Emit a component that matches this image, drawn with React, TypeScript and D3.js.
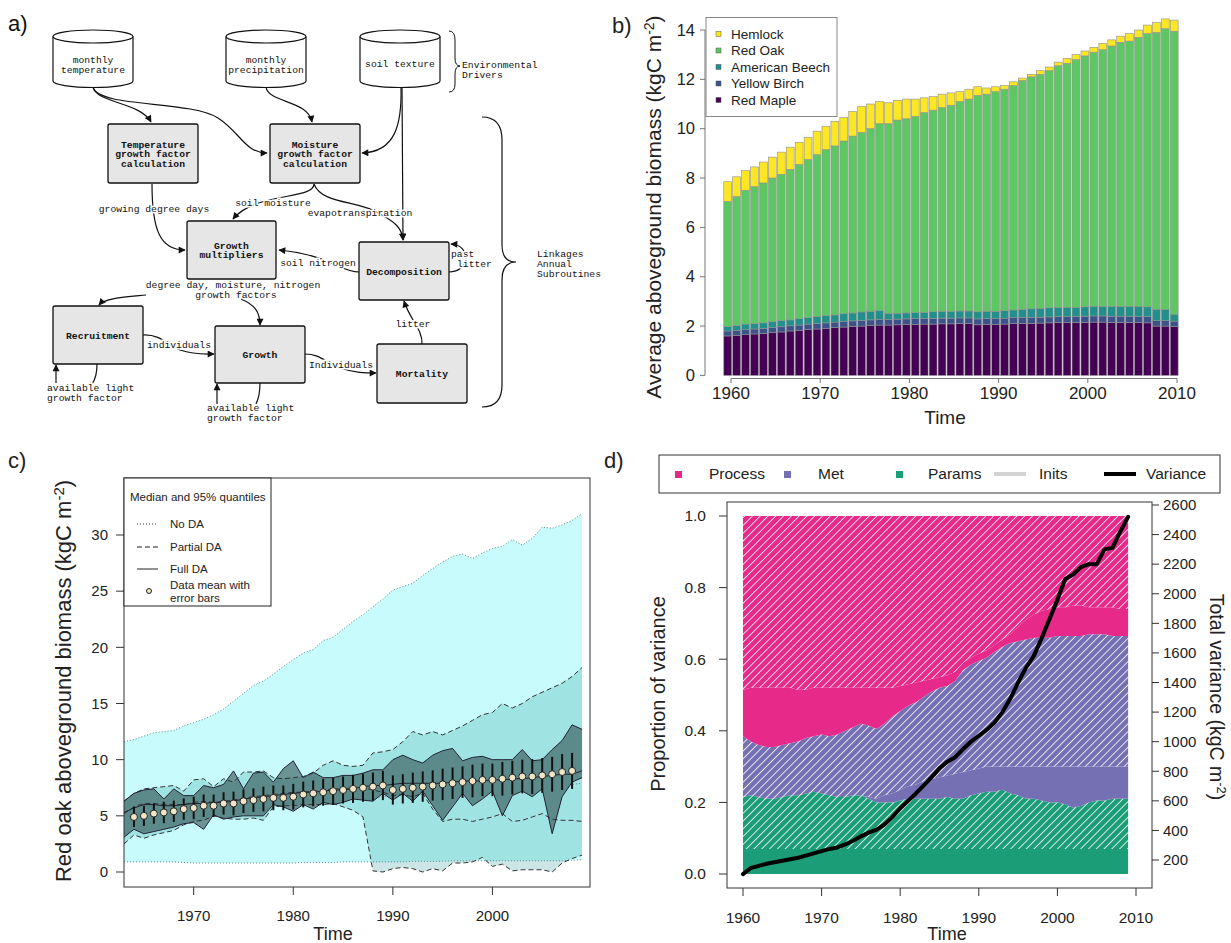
import * as d3 from "d3";

const SANS = "'Liberation Sans', Arial, Helvetica, sans-serif";
const MONO = "'Liberation Mono', 'DejaVu Sans Mono', monospace";

// ---------- b) average aboveground biomass by species (kgC m-2)
const barYears = d3.range(1960, 2011);
const speciesKeys = ["redMaple", "yellowBirch", "americanBeech", "redOak", "hemlock"];
const speciesLabels = ["Red Maple", "Yellow Birch", "American Beech", "Red Oak", "Hemlock"];
const speciesColors = ["#440154", "#3b528b", "#21908c", "#5dc863", "#fde725"];
const redMaple = [1.6, 1.62, 1.65, 1.68, 1.7, 1.73, 1.76, 1.8, 1.83, 1.86, 1.88, 1.91, 1.94, 1.96, 1.98, 2.0, 2.02, 2.04, 2.04, 2.05, 2.06, 2.07, 2.08, 2.08, 2.09, 2.09, 2.1, 2.1, 2.05, 2.06, 2.07, 2.08, 2.1, 2.1, 2.11, 2.12, 2.13, 2.14, 2.14, 2.15, 2.15, 2.16, 2.16, 2.15, 2.15, 2.15, 2.14, 2.13, 2.0, 2.0, 1.98];
const yellowBirch = [0.2, 0.2, 0.2, 0.2, 0.2, 0.21, 0.21, 0.21, 0.21, 0.22, 0.22, 0.22, 0.22, 0.22, 0.23, 0.23, 0.23, 0.23, 0.23, 0.23, 0.23, 0.23, 0.23, 0.23, 0.23, 0.23, 0.23, 0.23, 0.24, 0.24, 0.24, 0.24, 0.24, 0.24, 0.24, 0.24, 0.24, 0.24, 0.24, 0.24, 0.25, 0.25, 0.25, 0.25, 0.25, 0.25, 0.25, 0.25, 0.22, 0.22, 0.22];
const americanBeech = [0.18, 0.21, 0.23, 0.22, 0.23, 0.24, 0.25, 0.24, 0.26, 0.27, 0.28, 0.29, 0.29, 0.32, 0.32, 0.34, 0.35, 0.35, 0.25, 0.24, 0.24, 0.25, 0.25, 0.27, 0.28, 0.28, 0.28, 0.28, 0.29, 0.3, 0.29, 0.3, 0.31, 0.34, 0.35, 0.36, 0.37, 0.37, 0.38, 0.37, 0.38, 0.39, 0.39, 0.4, 0.4, 0.4, 0.41, 0.4, 0.46, 0.46, 0.28];
const redOak = [5.07, 5.22, 5.42, 5.55, 5.67, 5.82, 5.93, 6.1, 6.25, 6.4, 6.57, 6.73, 6.85, 7.0, 7.17, 7.28, 7.4, 7.58, 7.68, 7.83, 7.87, 7.95, 8.09, 8.17, 8.25, 8.35, 8.49, 8.59, 8.77, 8.8, 8.9, 8.98, 9.1, 9.27, 9.4, 9.48, 9.61, 9.8, 9.89, 10.04, 10.17, 10.3, 10.4, 10.55, 10.7, 10.75, 10.9, 11.07, 11.22, 11.37, 11.47];
const hemlock = [0.8, 0.8, 0.8, 0.8, 0.85, 0.85, 0.9, 0.9, 0.9, 0.9, 0.95, 0.95, 1.0, 0.95, 1.0, 1.05, 1.0, 0.9, 0.85, 0.8, 0.8, 0.7, 0.6, 0.55, 0.55, 0.5, 0.4, 0.4, 0.35, 0.25, 0.2, 0.15, 0.15, 0.1, 0.1, 0.15, 0.15, 0.15, 0.2, 0.2, 0.2, 0.2, 0.25, 0.25, 0.25, 0.3, 0.3, 0.35, 0.4, 0.4, 0.45];
const biomassTicks = [0, 2, 4, 6, 8, 10, 12, 14];
const barYearTicks = [1960, 1970, 1980, 1990, 2000, 2010];

// ---------- c) red oak biomass under data assimilation (kgC m-2)
const daYears = d3.range(1963, 2010);
const noDaUpper = [11.6, 11.8, 12.1, 12.4, 12.5, 12.6, 13.0, 13.3, 13.6, 14.0, 14.5, 15.2, 15.9, 16.6, 17.0, 17.6, 18.3, 18.9, 19.5, 19.8, 20.6, 20.9, 21.6, 22.3, 22.9, 23.6, 24.3, 25.1, 25.4, 25.7, 26.4, 27.0, 27.6, 28.1, 28.3, 27.9, 28.4, 28.8, 29.0, 29.6, 29.1, 29.7, 30.7, 30.6, 30.9, 31.3, 31.9];
const noDaLower = [0.9, 0.9, 0.9, 0.9, 0.9, 0.9, 0.85, 0.8, 0.8, 0.8, 0.8, 0.8, 0.8, 0.8, 0.8, 0.8, 0.8, 0.8, 0.85, 0.85, 0.85, 0.85, 0.9, 0.9, 0.9, 0.9, 0.9, 0.9, 0.9, 0.95, 0.95, 0.95, 0.95, 1.0, 1.0, 1.0, 1.0, 1.0, 1.0, 1.0, 1.0, 1.0, 1.0, 1.0, 1.0, 1.05, 1.1];
const noDaMedian = [5.0, 5.3, 5.5, 5.6, 5.7, 5.8, 5.9, 6.0, 6.0, 6.1, 6.1, 6.2, 6.3, 6.3, 6.4, 6.4, 6.5, 6.0, 6.0, 6.1, 6.2, 6.3, 6.4, 6.5, 6.6, 6.6, 6.7, 6.8, 6.8, 6.9, 6.9, 7.0, 7.0, 7.1, 7.1, 7.2, 7.2, 7.3, 7.3, 7.4, 7.4, 7.5, 7.5, 7.6, 7.7, 7.8, 7.9];
const partialUpper = [6.3, 7.0, 7.4, 7.5, 7.6, 7.7, 7.2, 8.2, 8.3, 7.6, 8.3, 8.0, 8.9, 8.9, 9.0, 8.4, 8.3, 8.4, 8.5, 8.8, 9.5, 9.9, 9.5, 9.4, 9.5, 10.6, 10.7, 10.9, 11.6, 12.5, 12.2, 12.5, 12.2, 12.6, 13.0, 13.5, 14.0, 14.2, 15.0, 14.6, 15.0, 15.6, 16.0, 16.4, 16.8, 17.4, 18.2];
const partialLower = [2.5, 3.3, 3.0, 3.3, 3.5, 3.7, 4.2, 4.5, 4.6, 5.0, 4.8, 4.7, 4.7, 4.8, 4.6, 5.8, 5.9, 5.9, 6.0, 6.0, 6.0, 6.1, 5.8, 5.5, 4.9, 0.1, 0.0, 0.3, 0.4, 0.3, 0.0, 0.3, 0.1, 0.8, 0.8, 0.9, 1.3, 0.5, 0.7, 0.1, 0.2, 0.2, 0.2, 0.0, 0.8, 1.2, 1.5];
const partialMedian = [5.2, 5.8, 6.1, 6.1, 6.0, 6.0, 6.0, 6.2, 6.3, 6.2, 6.3, 6.4, 6.6, 6.7, 6.8, 6.9, 7.0, 7.1, 7.1, 7.2, 7.3, 7.4, 7.4, 7.5, 7.5, 7.3, 7.1, 6.8, 6.9, 6.7, 7.0, 5.6, 4.5, 4.7, 4.7, 4.5, 4.7, 4.9, 5.2, 4.5, 4.6, 4.9, 5.2, 4.7, 4.6, 4.6, 4.5];
const fullUpper = [6.3, 7.0, 7.3, 7.4, 6.5, 7.4, 6.8, 6.8, 7.7, 7.5, 7.8, 9.0, 7.4, 8.8, 8.9, 8.0, 9.2, 9.9, 8.4, 8.9, 8.4, 8.4, 8.6, 8.6, 8.8, 9.1, 9.1, 10.0, 10.4, 10.0, 9.7, 10.4, 10.8, 11.0, 9.9, 10.2, 10.3, 10.0, 10.0, 10.0, 10.9, 9.9, 10.0, 10.9, 11.7, 13.1, 12.7];
const fullLower = [3.1, 3.8, 3.4, 3.6, 3.8, 4.0, 4.3, 4.4, 3.8, 5.1, 4.7, 4.9, 5.0, 5.0, 5.0, 6.0, 5.8, 5.4, 6.0, 5.6, 6.2, 6.0, 6.2, 6.5, 6.4, 6.3, 7.0, 6.4, 7.0, 6.3, 7.2, 5.9, 4.6, 5.8, 7.0, 5.9, 6.5, 7.2, 5.0, 6.8, 7.2, 6.7, 7.4, 3.4, 6.7, 8.0, 8.4];
const fullMedian = [5.3, 5.7, 6.0, 6.0, 5.9, 5.9, 6.0, 6.1, 6.1, 6.2, 6.2, 6.3, 6.5, 6.6, 6.7, 6.8, 6.9, 7.0, 7.1, 7.1, 7.2, 7.3, 7.3, 7.4, 7.6, 7.7, 7.7, 7.8, 7.9, 7.9, 7.9, 7.9, 7.9, 8.0, 8.1, 8.1, 8.1, 8.2, 8.2, 8.3, 8.3, 8.4, 8.5, 8.6, 8.7, 8.7, 9.0];
const obsYears = d3.range(1964, 2009);
const obsMean = [4.9, 5.0, 5.2, 5.3, 5.4, 5.6, 5.7, 5.9, 5.9, 6.1, 6.1, 6.3, 6.4, 6.5, 6.6, 6.6, 6.7, 6.9, 7.0, 7.1, 7.2, 7.3, 7.4, 7.5, 7.6, 7.7, 7.3, 7.4, 7.5, 7.6, 7.7, 7.8, 7.9, 8.0, 8.1, 8.2, 8.2, 8.3, 8.4, 8.5, 8.5, 8.6, 8.7, 8.9, 9.0];
const obsErr = [0.9, 0.9, 0.9, 0.95, 0.95, 0.95, 1.0, 1.0, 1.0, 1.0, 1.05, 1.05, 1.05, 1.1, 1.1, 1.1, 1.15, 1.15, 1.15, 1.2, 1.2, 1.2, 1.25, 1.25, 1.25, 1.3, 1.3, 1.3, 1.35, 1.35, 1.35, 1.4, 1.4, 1.4, 1.45, 1.45, 1.45, 1.5, 1.5, 1.5, 1.55, 1.55, 1.55, 1.6, 1.6];
const oakTicks = [0, 5, 10, 15, 20, 25, 30];
const oakYearTicks = [1970, 1980, 1990, 2000];

// ---------- d) variance partitioning
const varYears = d3.range(1960, 2010);
const paramsSolid = [0.07, 0.07, 0.07, 0.07, 0.07, 0.07, 0.07, 0.07, 0.07, 0.07, 0.07, 0.07, 0.07, 0.07, 0.07, 0.07, 0.07, 0.07, 0.07, 0.07, 0.07, 0.07, 0.07, 0.07, 0.07, 0.07, 0.07, 0.07, 0.07, 0.07, 0.07, 0.07, 0.07, 0.07, 0.07, 0.07, 0.07, 0.07, 0.07, 0.07, 0.07, 0.07, 0.07, 0.07, 0.07, 0.07, 0.07, 0.07, 0.07, 0.07];
const paramsHatch = [0.145, 0.15, 0.145, 0.14, 0.14, 0.145, 0.15, 0.15, 0.155, 0.16, 0.155, 0.15, 0.145, 0.145, 0.15, 0.15, 0.14, 0.13, 0.13, 0.13, 0.135, 0.14, 0.14, 0.14, 0.14, 0.14, 0.145, 0.14, 0.14, 0.15, 0.155, 0.16, 0.16, 0.165, 0.155, 0.15, 0.14, 0.14, 0.135, 0.13, 0.13, 0.125, 0.115, 0.12, 0.13, 0.135, 0.135, 0.14, 0.14, 0.14];
const metSolid = [0, 0, 0, 0, 0, 0, 0, 0, 0, 0, 0, 0, 0, 0, 0, 0, 0.005, 0.01, 0.02, 0.025, 0.03, 0.035, 0.04, 0.05, 0.055, 0.06, 0.06, 0.07, 0.075, 0.07, 0.07, 0.07, 0.07, 0.065, 0.075, 0.08, 0.09, 0.09, 0.095, 0.1, 0.1, 0.105, 0.115, 0.11, 0.1, 0.095, 0.095, 0.09, 0.09, 0.09];
const metHatch = [0.17, 0.15, 0.145, 0.145, 0.145, 0.145, 0.145, 0.15, 0.155, 0.155, 0.165, 0.165, 0.175, 0.185, 0.19, 0.2, 0.2, 0.195, 0.2, 0.215, 0.22, 0.225, 0.23, 0.235, 0.245, 0.25, 0.25, 0.26, 0.285, 0.295, 0.3, 0.305, 0.32, 0.335, 0.345, 0.35, 0.355, 0.36, 0.36, 0.36, 0.365, 0.365, 0.365, 0.365, 0.37, 0.37, 0.37, 0.365, 0.365, 0.365];
const processSolid = [0.13, 0.15, 0.16, 0.165, 0.165, 0.16, 0.155, 0.145, 0.135, 0.135, 0.13, 0.135, 0.13, 0.12, 0.11, 0.1, 0.105, 0.115, 0.1, 0.08, 0.07, 0.06, 0.055, 0.045, 0.035, 0.03, 0.03, 0.025, 0.02, 0.02, 0.02, 0.02, 0.02, 0.02, 0.025, 0.04, 0.055, 0.065, 0.075, 0.08, 0.08, 0.08, 0.085, 0.085, 0.075, 0.075, 0.075, 0.08, 0.075, 0.075];
const processHatch = [0.485, 0.48, 0.48, 0.48, 0.48, 0.48, 0.48, 0.485, 0.485, 0.48, 0.48, 0.48, 0.48, 0.48, 0.48, 0.48, 0.48, 0.48, 0.48, 0.48, 0.475, 0.47, 0.465, 0.46, 0.455, 0.45, 0.445, 0.435, 0.41, 0.395, 0.385, 0.375, 0.36, 0.345, 0.33, 0.31, 0.29, 0.275, 0.265, 0.26, 0.255, 0.255, 0.25, 0.25, 0.255, 0.255, 0.255, 0.255, 0.26, 0.26];
const totalVariance = [105, 146, 160, 175, 185, 195, 205, 215, 230, 245, 260, 275, 285, 305, 330, 360, 385, 405, 440, 490, 550, 600, 650, 705, 760, 820, 865, 895, 950, 1000, 1040, 1080, 1130, 1200, 1290, 1400, 1500, 1580, 1700, 1830, 1960, 2100, 2130, 2180, 2200, 2200, 2300, 2310, 2420, 2520];
const varLayerKeys = ["paramsSolid", "paramsHatch", "metSolid", "metHatch", "processSolid", "processHatch"];
const varLayerFill = ["#1b9e77", "url(#hatch-params)", "#7570b3", "url(#hatch-met)", "#e7298a", "url(#hatch-process)"];
const propTicks = [0, 0.2, 0.4, 0.6, 0.8, 1.0];
const varianceTicks = [200, 400, 600, 800, 1000, 1200, 1400, 1600, 1800, 2000, 2200, 2400, 2600];
const varYearTicks = [1960, 1970, 1980, 1990, 2000, 2010];

// ---------- a) flow diagram layout
const cylinders = [
  { lines: ["monthly", "temperature"], cx: 93 },
  { lines: ["monthly", "precipitation"], cx: 266 },
  { lines: ["soil texture"], cx: 400 },
];
const boxes = [
  { lines: ["Temperature", "growth factor", "calculation"], x: 108, y: 124, w: 90, h: 59 },
  { lines: ["Moisture", "growth factor", "calculation"], x: 270, y: 124, w: 90, h: 59 },
  { lines: ["Growth", "multipliers"], x: 187, y: 221, w: 89, h: 58 },
  { lines: ["Decomposition"], x: 359, y: 242, w: 90, h: 58 },
  { lines: ["Recruitment"], x: 53, y: 306, w: 90, h: 58 },
  { lines: ["Growth"], x: 215, y: 326, w: 90, h: 57 },
  { lines: ["Mortality"], x: 377, y: 344, w: 90, h: 59 },
];
const arrows = [
  "M93,87 C96,103 140,102 151,122",
  "M93,87 C98,108 190,100 218,118 C240,132 245,153 267,153",
  "M266,87 C268,103 308,100 312,122",
  "M401,87 C402,125 395,152 362,153",
  "M402,87 L403,240",
  "M314,184 C314,200 255,192 233,219",
  "M314,184 C322,205 360,200 380,214 C395,222 402,228 403,240",
  "M152,184 C152,230 160,250 185,250",
  "M359,272 C340,272 330,255 279,250",
  "M449,272 C470,272 472,245 451,244",
  "M146,295 C125,297 105,298 99,305",
  "M241,299 C255,305 260,312 260,325",
  "M143,335 C160,334 168,345 180,350 C195,355 205,354 214,354",
  "M305,354 C320,354 325,362 340,368 C355,373 365,373 376,373",
  "M422,344 C423,330 410,320 404,301",
  "M56,383 L56,365",
  "M217,404 L217,384",
];
const plainLinks = ["M97,364 C97,375 95,380 92,384", "M260,383 C260,395 258,400 256,404"];
const edgeLabels = [
  { text: "growing degree days", x: 154, y: 208, anchor: "middle" },
  { text: "soil moisture", x: 273, y: 202, anchor: "middle" },
  { text: "evapotranspiration", x: 360, y: 212, anchor: "middle" },
  { text: "soil nitrogen", x: 318, y: 262, anchor: "middle" },
  { text: "past", x: 451, y: 253, anchor: "start" },
  { text: "litter", x: 457, y: 263, anchor: "start" },
  { text: "degree day, moisture, nitrogen", x: 233, y: 284, anchor: "middle" },
  { text: "growth factors", x: 236, y: 294, anchor: "middle" },
  { text: "individuals", x: 179, y: 344, anchor: "middle" },
  { text: "Individuals", x: 341, y: 364, anchor: "middle" },
  { text: "litter", x: 413, y: 323, anchor: "middle" },
  { text: "available light", x: 47, y: 387, anchor: "start" },
  { text: "growth factor", x: 47, y: 397, anchor: "start" },
  { text: "available light", x: 207, y: 407, anchor: "start" },
  { text: "growth factor", x: 207, y: 417, anchor: "start" },
];

function Flowchart() {
  const top = 30;
  const bottom = 81;
  const w = 80;
  const ry = 6.5;
  return (
    <g fontFamily={MONO} fontSize={9.7} fill="#111">
      <text x={8} y={31} fontSize={22} fontFamily={SANS}>a)</text>
      {cylinders.map((c) => {
        const x0 = c.cx - w / 2;
        const x1 = c.cx + w / 2;
        return (
          <g key={c.lines.join()}>
            <path
              d={`M${x0},${top + ry} L${x0},${bottom} A${w / 2},${ry} 0 0 0 ${x1},${bottom} L${x1},${top + ry}`}
              fill="#fff"
              stroke="#111"
              strokeWidth={1.2}
            />
            <ellipse cx={c.cx} cy={top + ry} rx={w / 2} ry={ry} fill="#fff" stroke="#111" strokeWidth={1.2} />
            {c.lines.map((l, i) => (
              <text key={l} x={c.cx} y={c.lines.length === 1 ? 67 : 63 + i * 10} textAnchor="middle">
                {l}
              </text>
            ))}
          </g>
        );
      })}
      <path d="M449,31 Q455,31 455,40 L455,58 Q455,66 460,66 Q455,66 455,74 L455,84 Q455,92 449,92" fill="none" stroke="#111" strokeWidth={1} />
      <text x={462} y={68}>Environmental</text>
      <text x={462} y={78}>Drivers</text>

      {plainLinks.map((d) => (
        <path key={d} d={d} fill="none" stroke="#111" strokeWidth={1.2} />
      ))}
      {arrows.map((d) => (
        <path key={d} d={d} fill="none" stroke="#111" strokeWidth={1.2} markerEnd="url(#arrowhead)" />
      ))}
      {edgeLabels.map((l, i) => (
        <text
          key={i}
          x={l.x}
          y={l.y + 3.5}
          textAnchor={l.anchor as any}
          stroke="#fff"
          strokeWidth={3}
          paintOrder="stroke"
        >
          {l.text}
        </text>
      ))}
      {boxes.map((b) => (
        <g key={b.lines.join()}>
          <rect x={b.x} y={b.y} width={b.w} height={b.h} rx={2} fill="#e6e6e6" stroke="#111" strokeWidth={1.3} />
          {b.lines.map((l, i) => (
            <text
              key={l}
              x={b.x + b.w / 2}
              y={b.y + b.h / 2 + 3.5 + (i - (b.lines.length - 1) / 2) * 9.5}
              textAnchor="middle"
              fontWeight="bold"
            >
              {l}
            </text>
          ))}
        </g>
      ))}
      <path d="M482,117 Q502,117 502,140 L502,245 Q502,262 516,262 Q502,262 502,280 L502,385 Q502,407 482,407" fill="none" stroke="#111" strokeWidth={1.2} />
      <text x={537} y={256.5}>Linkages</text>
      <text x={537} y={266.5}>Annual</text>
      <text x={537} y={276.5}>Subroutines</text>
    </g>
  );
}

function BiomassBars() {
  // bars sit a little left of the year ticks, as in the original barplot
  const xBar = d3.scaleLinear().domain([1960, 2010]).range([727.7, 1174.2]);
  const xTick = d3.scaleLinear().domain([1960, 2010]).range([731, 1177]);
  const y = d3.scaleLinear().domain([0, 14]).range([375.4, 30]);
  const bw = (xBar(1961) - xBar(1960)) * 0.88;
  const table = barYears.map((year, i) => ({
    year,
    redMaple: redMaple[i],
    yellowBirch: yellowBirch[i],
    americanBeech: americanBeech[i],
    redOak: redOak[i],
    hemlock: hemlock[i],
  }));
  const series = d3.stack<any>().keys(speciesKeys)(table);
  const legendOrder = [4, 3, 2, 1, 0];
  return (
    <g fontFamily={SANS} fill="#222">
      <text x={612} y={33} fontSize={22}>b)</text>
      {series.map((s, k) => (
        <g key={s.key} fill={speciesColors[k]}>
          {s.map((d, i) => (
            <rect
              key={i}
              x={xBar(barYears[i]) - bw / 2}
              y={y(d[1])}
              width={bw}
              height={y(d[0]) - y(d[1])}
              stroke="#8f8f8f"
              strokeWidth={0.6}
            />
          ))}
        </g>
      ))}
      <line x1={705} x2={705} y1={y(0)} y2={y(14)} stroke="#777" />
      {biomassTicks.map((t) => (
        <g key={t}>
          <line x1={700} x2={705} y1={y(t)} y2={y(t)} stroke="#777" />
          <text x={695} y={y(t)} dy="0.35em" textAnchor="end" fontSize={16.5}>{t}</text>
        </g>
      ))}
      <line x1={xTick(1960)} x2={xTick(2010)} y1={378.5} y2={378.5} stroke="#777" />
      {barYearTicks.map((t) => (
        <g key={t}>
          <line x1={xTick(t)} x2={xTick(t)} y1={378.5} y2={383} stroke="#777" />
          <text x={xTick(t)} y={399} textAnchor="middle" fontSize={17}>{t}</text>
        </g>
      ))}
      <text x={945} y={424} textAnchor="middle" fontSize={19}>Time</text>
      <text transform="translate(661,207) rotate(-90)" textAnchor="middle" fontSize={21}>
        Average aboveground biomass (kgC m
        <tspan dy={-7} fontSize={14}>-2</tspan>
        <tspan dy={7}>)</tspan>
      </text>
      <rect x={706} y={17.5} width={131} height={99} fill="#fff" stroke="#888" />
      {legendOrder.map((k, i) => (
        <g key={k}>
          <rect x={716} y={31.5 + i * 16.5} width={5} height={5} fill={speciesColors[k]} stroke="#555" strokeWidth={0.5} />
          <text x={731} y={34 + i * 16.5} dy="0.35em" fontSize={13.5}>{speciesLabels[k]}</text>
        </g>
      ))}
    </g>
  );
}

function RedOakPanel() {
  const x = d3.scaleLinear().domain([1963, 2009.8]).range([124, 590]);
  const y = d3.scaleLinear().domain([0, 30]).range([872, 535]);
  const band = (lo: number[], hi: number[]) =>
    d3
      .area<number>()
      .x((d) => x(d))
      .y0((_, i) => y(lo[i]))
      .y1((_, i) => y(hi[i]))(daYears) || "";
  const line = (v: number[]) =>
    d3
      .line<number>()
      .x((d) => x(d))
      .y((_, i) => y(v[i]))(daYears) || "";
  return (
    <g fontFamily={SANS} fill="#222">
      <text x={8} y={468} fontSize={22}>c)</text>
      <path d={band(noDaLower, noDaUpper)} fill="#c8fcfc" />
      <path d={band(partialLower, partialUpper)} fill="rgba(0,128,128,0.2)" />
      <path d={band(fullLower, fullUpper)} fill="rgba(47,79,79,0.6)" />
      {[noDaLower, noDaUpper, noDaMedian].map((v, i) => (
        <path key={"n" + i} d={line(v)} fill="none" stroke="#5a8a8a" strokeWidth={1} strokeDasharray="1,2" />
      ))}
      {[partialLower, partialUpper, partialMedian].map((v, i) => (
        <path key={"p" + i} d={line(v)} fill="none" stroke="#333" strokeWidth={1} strokeDasharray="5,3" />
      ))}
      {[fullLower, fullUpper, fullMedian].map((v, i) => (
        <path key={"f" + i} d={line(v)} fill="none" stroke="#223" strokeWidth={1} />
      ))}
      {obsYears.map((yr, i) => (
        <line key={"e" + yr} x1={x(yr)} x2={x(yr)} y1={y(obsMean[i] - obsErr[i])} y2={y(obsMean[i] + obsErr[i])} stroke="#111" strokeWidth={2} />
      ))}
      {obsYears.map((yr, i) => (
        <circle key={"o" + yr} cx={x(yr)} cy={y(obsMean[i])} r={3.5} fill="#f0e5c6" stroke="#222" strokeWidth={1} />
      ))}
      <rect x={124} y={478} width={466} height={409} fill="none" stroke="#333" />
      {oakTicks.map((t) => (
        <g key={t}>
          <line x1={116} x2={124} y1={y(t)} y2={y(t)} stroke="#333" />
          <text x={108} y={y(t)} dy="0.35em" textAnchor="end" fontSize={15}>{t}</text>
        </g>
      ))}
      {oakYearTicks.map((t) => (
        <g key={t}>
          <line x1={x(t)} x2={x(t)} y1={887} y2={895} stroke="#333" />
          <text x={x(t)} y={921} textAnchor="middle" fontSize={15}>{t}</text>
        </g>
      ))}
      <text x={333} y={940} textAnchor="middle" fontSize={18}>Time</text>
      <text transform="translate(71,681) rotate(-90)" textAnchor="middle" fontSize={22}>
        Red oak aboveground biomass (kgC m
        <tspan dy={-7} fontSize={15}>-2</tspan>
        <tspan dy={7}>)</tspan>
      </text>
      <rect x={124} y={478} width={147} height={128} fill="#fff" stroke="#222" />
      <g fontSize={11.5}>
        <text x={130} y={501}>Median and 95% quantiles</text>
        <line x1={137} x2={158} y1={524} y2={524} stroke="#333" strokeDasharray="1,2" />
        <text x={170} y={528}>No DA</text>
        <line x1={137} x2={158} y1={547} y2={547} stroke="#222" strokeDasharray="5,3" />
        <text x={170} y={551}>Partial DA</text>
        <line x1={137} x2={158} y1={569} y2={569} stroke="#222" />
        <text x={170} y={573}>Full DA</text>
        <circle cx={149} cy={591} r={2.5} fill="#f0e5c6" stroke="#222" />
        <text x={170} y={589}>Data mean with</text>
        <text x={170} y={602}> error bars</text>
      </g>
    </g>
  );
}

function VariancePanel() {
  const x = d3.scaleLinear().domain([1960, 2010]).range([743, 1136]);
  const y = d3.scaleLinear().domain([0, 1]).range([874, 516]);
  const yv = d3.scaleLinear().domain([0, 2600]).range([889.6, 505]);
  const table = varYears.map((year, i) => ({
    year,
    paramsSolid: paramsSolid[i],
    paramsHatch: paramsHatch[i],
    metSolid: metSolid[i],
    metHatch: metHatch[i],
    processSolid: processSolid[i],
    processHatch: processHatch[i],
  }));
  const series = d3.stack<any>().keys(varLayerKeys)(table);
  const area = d3
    .area<any>()
    .x((d) => x(d.data.year))
    .y0((d) => y(d[0]))
    .y1((d) => y(d[1]));
  const varLine =
    d3
      .line<number>()
      .x((d) => x(d))
      .y((_, i) => yv(totalVariance[i]))(varYears) || "";
  const fmt = d3.format(".1f");
  return (
    <g fontFamily={SANS} fill="#222">
      <text x={604} y={468} fontSize={22}>d)</text>
      <rect x={659} y={455} width={561} height={38} fill="#fff" stroke="#333" />
      <g fontSize={15.5}>
        <rect x={675} y={471} width={7} height={7} fill="#e7298a" />
        <text x={709} y={479}>Process</text>
        <rect x={784} y={471} width={7} height={7} fill="#7570b3" />
        <text x={818} y={479}>Met</text>
        <rect x={896} y={471} width={7} height={7} fill="#1b9e77" />
        <text x={928} y={479}>Params</text>
        <line x1={994} x2={1026} y1={474} y2={474} stroke="#d3d3d3" strokeWidth={4} />
        <text x={1039} y={479}>Inits</text>
        <line x1={1104} x2={1136} y1={474} y2={474} stroke="#000" strokeWidth={4} />
        <text x={1146} y={479}>Variance</text>
      </g>
      {series.map((s, k) => (
        <path key={s.key} d={area(s) || ""} fill={varLayerFill[k]} />
      ))}
      <path d={varLine} fill="none" stroke="#000" strokeWidth={4} strokeLinejoin="round" strokeLinecap="round" />
      <rect x={727} y={502} width={425} height={386} fill="none" stroke="#333" />
      {propTicks.map((t) => (
        <g key={t}>
          <line x1={719} x2={727} y1={y(t)} y2={y(t)} stroke="#333" />
          <text x={706} y={y(t)} dy="0.35em" textAnchor="end" fontSize={15.5}>{fmt(t)}</text>
        </g>
      ))}
      {varianceTicks.map((t) => (
        <g key={t}>
          <line x1={1152} x2={1159} y1={yv(t)} y2={yv(t)} stroke="#333" />
          <text x={1163} y={yv(t)} dy="0.35em" fontSize={15}>{t}</text>
        </g>
      ))}
      {varYearTicks.map((t) => (
        <g key={t}>
          <line x1={x(t)} x2={x(t)} y1={888} y2={896} stroke="#333" />
          <text x={x(t)} y={923} textAnchor="middle" fontSize={15.5}>{t}</text>
        </g>
      ))}
      <text x={947} y={940} textAnchor="middle" fontSize={18}>Time</text>
      <text transform="translate(665,694) rotate(-90)" textAnchor="middle" fontSize={20}>
        Proportion of variance
      </text>
      <text transform="translate(1210,697) rotate(90)" textAnchor="middle" fontSize={19.5}>
        Total variance (kgC m
        <tspan dy={-7} fontSize={13}>-2</tspan>
        <tspan dy={7}>)</tspan>
      </text>
    </g>
  );
}

function Hatch({ id, color }: { id: string; color: string }) {
  return (
    <pattern id={id} patternUnits="userSpaceOnUse" width={5.5} height={5.5} patternTransform="rotate(45)">
      <rect width={5.5} height={5.5} fill={color} />
      <line x1={0} y1={0} x2={0} y2={5.5} stroke="#fff" strokeWidth={1.6} />
    </pattern>
  );
}

export default function App() {
  return (
    <svg
      width={1231}
      height={943}
      viewBox="0 0 1231 943"
      style={{ position: "absolute", left: 0, top: 0, background: "#fff" }}
    >
      <defs>
        <marker id="arrowhead" viewBox="0 0 10 10" refX={9} refY={5} markerWidth={8} markerHeight={7} markerUnits="userSpaceOnUse" orient="auto">
          <path d="M0,0 L10,5 L0,10 z" fill="#111" />
        </marker>
        <Hatch id="hatch-params" color="#1b9e77" />
        <Hatch id="hatch-met" color="#7570b3" />
        <Hatch id="hatch-process" color="#e7298a" />
      </defs>
      <rect width={1231} height={943} fill="#fff" />
      <Flowchart />
      <BiomassBars />
      <RedOakPanel />
      <VariancePanel />
    </svg>
  );
}
